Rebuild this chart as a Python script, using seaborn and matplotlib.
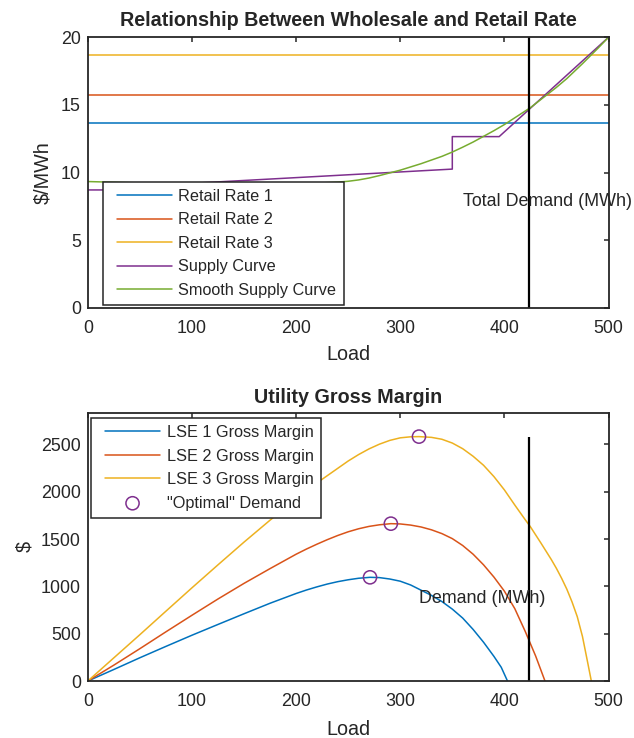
import numpy as np
import pandas as pd
import seaborn as sns
import matplotlib.pyplot as plt
from matplotlib.lines import Line2D
from matplotlib.collections import PathCollection
from matplotlib.legend_handler import HandlerLine2D, HandlerPathCollection

sns.set_style("white")
plt.rcParams['font.family'] = ['Liberation Sans', 'DejaVu Sans']

# matlab default colour order
blue, orange, yellow, purple, green = "#0072BD", "#D95319", "#EDB120", "#7E2F8E", "#77AC30"
axis_grey = "#262626"

# ---- top panel data ($/MWh vs load) ----
load_range = [0, 500]
retail_rates = [13.7, 15.7, 18.7]
retail_labels = ["Retail Rate 1", "Retail Rate 2", "Retail Rate 3"]

supply_load = [0, 50, 50, 350, 350, 395, 500]
supply_price = [8.72, 8.72, 9.0, 10.26, 12.66, 12.66, 20.0]

smooth_load = [0, 25, 50, 75, 100, 125, 150, 175, 200, 225, 240, 250, 260, 270,
               280, 290, 300, 310, 320, 330, 340, 350, 360, 370, 380, 390, 400,
               410, 425, 440, 450, 460, 475, 490, 500]
smooth_price = [9.34, 9.29, 9.24, 9.20, 9.17, 9.15, 9.15, 9.16, 9.19, 9.24, 9.30,
                9.36, 9.46, 9.60, 9.78, 9.98, 10.18, 10.42, 10.66, 10.93, 11.20,
                11.52, 11.88, 12.26, 12.68, 13.10, 13.55, 14.05, 14.80, 15.70,
                16.30, 16.95, 18.05, 19.20, 20.0]

total_demand = 424

# ---- bottom panel data (gross margin $) ----
lse1_load = [0, 25, 50, 75, 100, 125, 150, 175, 200, 210, 220, 230, 240, 250,
             260, 271, 280, 290, 300, 310, 320, 330, 340, 350, 360, 370, 380,
             390, 397, 403]
lse1_margin = [0, 122, 246, 366, 484, 598, 711, 822, 925, 962, 995, 1025, 1050,
               1070, 1086, 1096, 1093, 1078, 1055, 1015, 960, 905, 840, 760, 665,
               545, 410, 260, 145, 0]

lse2_load = [0, 25, 50, 75, 100, 125, 150, 175, 200, 210, 220, 230, 240, 250,
             260, 270, 280, 291, 300, 310, 320, 330, 340, 350, 360, 370, 380,
             390, 400, 410, 420, 430, 439]
lse2_margin = [0, 168, 342, 520, 695, 867, 1032, 1188, 1340, 1395, 1446, 1494,
               1538, 1577, 1609, 1634, 1651, 1663, 1660, 1648, 1628, 1598, 1558,
               1505, 1432, 1340, 1228, 1098, 950, 765, 525, 265, 0]

lse3_load = [0, 25, 50, 75, 100, 125, 150, 175, 200, 225, 250, 260, 270, 280,
             290, 300, 310, 318, 330, 340, 350, 360, 370, 380, 390, 400, 410,
             420, 425, 435, 445, 450, 455, 460, 465, 470, 475, 480, 483.5]
lse3_margin = [0, 245, 490, 738, 985, 1228, 1468, 1700, 1922, 2132, 2325, 2393,
               2453, 2503, 2543, 2570, 2581, 2583, 2575, 2555, 2515, 2455, 2375,
               2280, 2160, 2020, 1860, 1705, 1630, 1460, 1285, 1190, 1085, 970,
               835, 680, 470, 195, 0]

opt_load = [271, 291, 318]
opt_margin = [1096, 1663, 2583]


def style_axes(ax):
    for sp in ax.spines.values():
        sp.set_color(axis_grey)
        sp.set_linewidth(1.3)
        sp.set_visible(True)
    ax.tick_params(direction='in', top=True, right=True, length=3.5, width=1.1,
                   color=axis_grey, labelcolor=axis_grey, labelsize=12.9, pad=5)
    ax.tick_params(axis='x', pad=8.5)


def make_legend(ax, **kw):
    hmap = {Line2D: HandlerLine2D(xpad=0.4),
            PathCollection: HandlerPathCollection(xpad=0.4)}
    leg = ax.legend(fontsize=11.7, handlelength=3.8, handletextpad=0.4,
                    borderpad=0.45, labelspacing=0.52, borderaxespad=0,
                    fancybox=False, framealpha=1, edgecolor=axis_grey,
                    handler_map=hmap, **kw)
    leg.get_frame().set_linewidth(1.1)
    return leg


fig = plt.figure(figsize=(6.34, 7.38), dpi=100)
ax1 = fig.add_axes([0.1385, 0.5827, 0.8213, 0.3668])
ax2 = fig.add_axes([0.1385, 0.0772, 0.8213, 0.3635])

# top panel
for rate, lab, col in zip(retail_rates, retail_labels, [blue, orange, yellow]):
    sns.lineplot(x=load_range, y=[rate, rate], color=col, lw=1.1, label=lab, ax=ax1)
sns.lineplot(x=supply_load, y=supply_price, color=purple, lw=1.1, sort=False,
             estimator=None, label="Supply Curve", ax=ax1)
sns.lineplot(x=smooth_load, y=smooth_price, color=green, lw=1.1, sort=False,
             estimator=None, label="Smooth Supply Curve", ax=ax1)
ax1.axvline(total_demand, color="black", lw=1.6)
ax1.text(360, 7.85, "Total Demand (MWh)", va="center", fontsize=12.9)
ax1.set_xlim(0, 500)
ax1.set_ylim(0, 20)
ax1.set_xticks(np.arange(0, 501, 100))
ax1.set_yticks(np.arange(0, 21, 5))
ax1.set_xlabel("Load", fontsize=14.2, color=axis_grey, labelpad=6)
ax1.set_ylabel("$/MWh", fontsize=14.2, color=axis_grey, labelpad=6)
ax1.set_title("Relationship Between Wholesale and Retail Rate", fontsize=14.2,
              fontweight="bold", pad=8)
style_axes(ax1)
make_legend(ax1, loc="lower left", bbox_to_anchor=(0.029, 0.011))

# bottom panel
sns.lineplot(x=lse1_load, y=lse1_margin, color=blue, lw=1.1, estimator=None,
             label="LSE 1 Gross Margin", ax=ax2)
sns.lineplot(x=lse2_load, y=lse2_margin, color=orange, lw=1.1, estimator=None,
             label="LSE 2 Gross Margin", ax=ax2)
sns.lineplot(x=lse3_load, y=lse3_margin, color=yellow, lw=1.1, estimator=None,
             label="LSE 3 Gross Margin", ax=ax2)
sns.scatterplot(x=opt_load, y=opt_margin, marker="o", s=90, color=purple,
                facecolor="none", edgecolor=purple, linewidth=1.1,
                label='"Optimal" Demand', ax=ax2, zorder=5)
ax2.vlines(total_demand, 0, max(opt_margin), color="black", lw=1.6)
ax2.text(318, 875, "Demand (MWh)", va="center", fontsize=12.9)
ax2.set_xlim(0, 500)
ax2.set_ylim(0, 2835)
ax2.set_xticks(np.arange(0, 501, 100))
ax2.set_yticks(np.arange(0, 2501, 500))
ax2.set_xlabel("Load", fontsize=14.2, color=axis_grey, labelpad=7)
ax2.set_ylabel("$", fontsize=14.2, color=axis_grey, labelpad=5)
ax2.set_title("Utility Gross Margin", fontsize=14.2, fontweight="bold", pad=7)
style_axes(ax2)
make_legend(ax2, loc="upper left", bbox_to_anchor=(0.0063, 0.981))

fig.savefig("out.png", dpi=100)
